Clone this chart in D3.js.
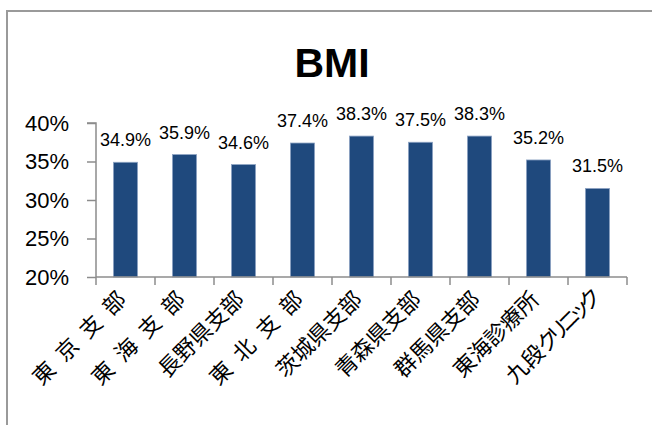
<!DOCTYPE html>
<html><head><meta charset="utf-8">
<script src="https://cdn.jsdelivr.net/npm/d3@7"></script>
<style>body{margin:0;background:#fff;}svg{display:block;}</style>
</head><body>
<svg id="c" width="652" height="425"></svg>
<script>
const categories = ["東 京 支 部","東 海 支 部","長野県支部","東 北 支 部","茨城県支部","青森県支部","群馬県支部","東海診療所","九段クリニック"];
const values = [0.349,0.359,0.346,0.374,0.383,0.375,0.383,0.352,0.315];
const yTicks = [0.20,0.25,0.30,0.35,0.40];
const title = "BMI";

(function(){
const svg = d3.select("#c");
svg.append("rect").attr("x",7).attr("y",11).attr("width",660).attr("height",430)
  .attr("fill","#fff").attr("stroke","#9a9a9a").attr("stroke-width",2);

const pl=96, pr=627, pt=123, pb=277;
const x = d3.scaleBand().domain(categories).range([pl,pr]).paddingInner(0.59).paddingOuter(0.295);
const xb = d3.scaleBand().domain(categories).range([pl,pr]);
const y = d3.scaleLinear().domain([0.2,0.4]).range([pb,pt]);

svg.append("text").attr("x",332).attr("y",77).attr("text-anchor","middle")
  .attr("font-family","Liberation Sans, Arial, sans-serif").attr("font-weight","bold")
  .attr("font-size",41).attr("fill","#000").text(title);

// y axis
const ya = svg.append("g").attr("transform",`translate(${pl},0)`)
  .call(d3.axisLeft(y).tickValues(yTicks).tickSize(9).tickPadding(18).tickFormat(d3.format(".0%")));
ya.selectAll("path,line").attr("stroke","#8c8c8c").attr("stroke-width",1.5);
ya.select(".domain").attr("d",`M-9,${pt}H0V${pb}`);
ya.selectAll("text").attr("font-family","Liberation Sans, Arial, sans-serif").attr("font-size",22).attr("fill","#000");

// bars
svg.selectAll("rect.bar").data(values).join("rect").attr("class","bar")
  .attr("x",(d,i)=>x(categories[i])).attr("width",x.bandwidth())
  .attr("y",d=>y(d)).attr("height",d=>pb-y(d))
  .attr("fill","#1f497d").attr("stroke","#8ea4c4").attr("stroke-width",0.8);

// x axis
const xg = svg.append("g").attr("transform",`translate(0,${pb})`);
xg.append("line").attr("x1",pl).attr("x2",pr).attr("stroke","#8c8c8c").attr("stroke-width",1.5);
const bounds = categories.map(c=>xb(c)).concat([pr]);
xg.selectAll("line.t").data(bounds).join("line").attr("class","t")
  .attr("x1",d=>d).attr("x2",d=>d).attr("y1",0).attr("y2",8)
  .attr("stroke","#8c8c8c").attr("stroke-width",1.5);

// category labels
const cat = svg.selectAll("text.cat").data(categories).join("text").attr("class","cat")
  .attr("transform",c=>`translate(${xb(c)+xb.bandwidth()/2-13},${pb+9}) rotate(-45)`)
  .attr("text-anchor","end").attr("dominant-baseline","hanging")
  .attr("font-family","Noto Sans CJK JP, sans-serif").attr("font-size",22).attr("fill","#000")
  .style("font-feature-settings","'palt'");
cat.each(function(c){
  const t = d3.select(this);
  const runs = c.replace(/ /g,"\u2002").match(/[\u30A0-\u30FF]+|[^\u30A0-\u30FF]+/g);
  runs.forEach(r=>{
    const s = t.append("tspan").text(r);
    if (/[\u30A0-\u30FF]/.test(r)) s.attr("letter-spacing","-4px");
  });
});

// data labels
svg.selectAll("text.val").data(values).join("text").attr("class","val")
  .attr("x",(d,i)=>x(categories[i])+x.bandwidth()/2).attr("y",d=>y(d)-16)
  .attr("text-anchor","middle").attr("font-family","Liberation Sans, Arial, sans-serif")
  .attr("font-size",18).attr("fill","#000").text(d=>d3.format(".1%")(d));
})();
</script>
</body></html>
